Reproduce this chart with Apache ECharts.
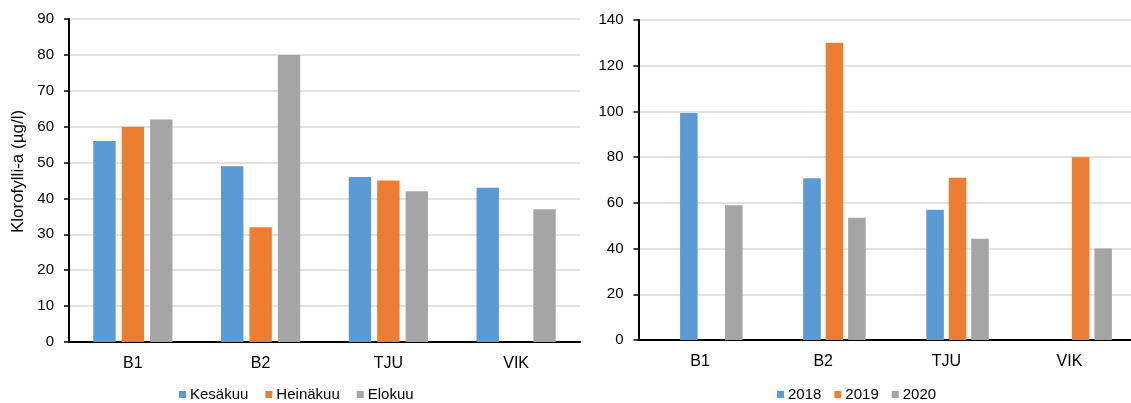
<!DOCTYPE html>
<html>
<head>
<meta charset="utf-8">
<script src="https://cdn.jsdelivr.net/npm/echarts@6/dist/echarts.min.js"></script>
<style>
html,body{margin:0;padding:0;background:#fff;}
#chart{width:1131px;height:403px;}
</style>
</head>
<body>
<div id="chart"></div>
<script>
// Data
const categories = ['B1', 'B2', 'TJU', 'VIK'];
const leftSeriesNames = ['Kesäkuu', 'Heinäkuu', 'Elokuu'];
const kesakuu = [56, 49, 46, 43];
const heinakuu = [60, 32, 45, null];
const elokuu = [62, 80, 42, 37];
const rightSeriesNames = ['2018', '2019', '2020'];
const emptySlot = [null, null, null, null]; // unlabelled empty first series in the original
const y2018 = [99.3, 70.8, 57, null];
const y2019 = [null, 130, 71, 80];
const y2020 = [59, 53.5, 44.3, 40];
const leftTicks = { min: 0, max: 90, interval: 10 };
const rightTicks = { min: 0, max: 140, interval: 20 };
const axisTitle = 'Klorofylli-a (µg/l)';

const colors = ['#5B9BD5', '#ED7D31', '#A5A5A5'];
const font = "'Liberation Sans', Arial, sans-serif";

const chart = echarts.init(document.getElementById('chart'), null, { renderer: 'canvas' });

function yAx(gi, t, extra) {
  return Object.assign({
    type: 'value', gridIndex: gi, min: t.min, max: t.max, interval: t.interval,
    axisLine: { show: true, lineStyle: { color: '#000', width: 2 } },
    axisTick: { show: true, length: 5, lineStyle: { color: '#000', width: 1.5 } },
    axisLabel: { color: '#000', fontSize: 15, fontFamily: font, margin: 15 },
    splitLine: { show: true, lineStyle: { color: '#d9d9d9', width: 1.5 } }
  }, extra || {});
}
function xAx(gi) {
  return {
    type: 'category', gridIndex: gi, data: categories,
    axisLine: { show: true, lineStyle: { color: '#000', width: 2 } },
    axisTick: { show: false },
    axisLabel: { color: '#000', fontSize: 16, fontFamily: font, margin: 14 },
    splitLine: { show: false }
  };
}
function bar(name, data, xi, color, gapCat, gap) {
  return {
    type: 'bar', name: name, data: data, xAxisIndex: xi, yAxisIndex: xi,
    itemStyle: { color: color },
    barCategoryGap: gapCat, barGap: gap,
    animation: false
  };
}

chart.setOption({
  animation: false,
  textStyle: { fontFamily: font },
  grid: [
    { left: 69, top: 19, width: 511, height: 323, containLabel: false },
    { left: 638.5, top: 20, width: 501, height: 320, containLabel: false }
  ],
  xAxis: [xAx(0), xAx(1)],
  yAxis: [
    yAx(0, leftTicks, {
      name: axisTitle, nameLocation: 'middle', nameGap: 42, nameRotate: 90,
      nameTextStyle: { color: '#000', fontSize: 17, fontFamily: font, padding: [0, 0, 0, 18] }
    }),
    yAx(1, rightTicks)
  ],
  legend: [
    {
      data: leftSeriesNames, left: 179, top: 387, padding: 0,
      itemWidth: 7, itemHeight: 7, itemGap: 17, icon: 'rect',
      textStyle: { color: '#000', fontSize: 15, fontFamily: font, padding: [0, 0, 0, -1] }
    },
    {
      data: rightSeriesNames, left: 777, top: 387, padding: 0,
      itemWidth: 7, itemHeight: 7, itemGap: 13, icon: 'rect',
      textStyle: { color: '#000', fontSize: 15, fontFamily: font, padding: [0, 0, 0, -1] }
    }
  ],
  series: [
    bar(leftSeriesNames[0], kesakuu, 0, colors[0], '38%', '27%'),
    bar(leftSeriesNames[1], heinakuu, 0, colors[1], '38%', '27%'),
    bar(leftSeriesNames[2], elokuu, 0, colors[2], '38%', '27%'),
    bar('', emptySlot, 1, '#ffffff', '31%', '28%'),
    bar(rightSeriesNames[0], y2018, 1, colors[0], '31%', '28%'),
    bar(rightSeriesNames[1], y2019, 1, colors[1], '31%', '28%'),
    bar(rightSeriesNames[2], y2020, 1, colors[2], '31%', '28%')
  ]
});
</script>
</body>
</html>
